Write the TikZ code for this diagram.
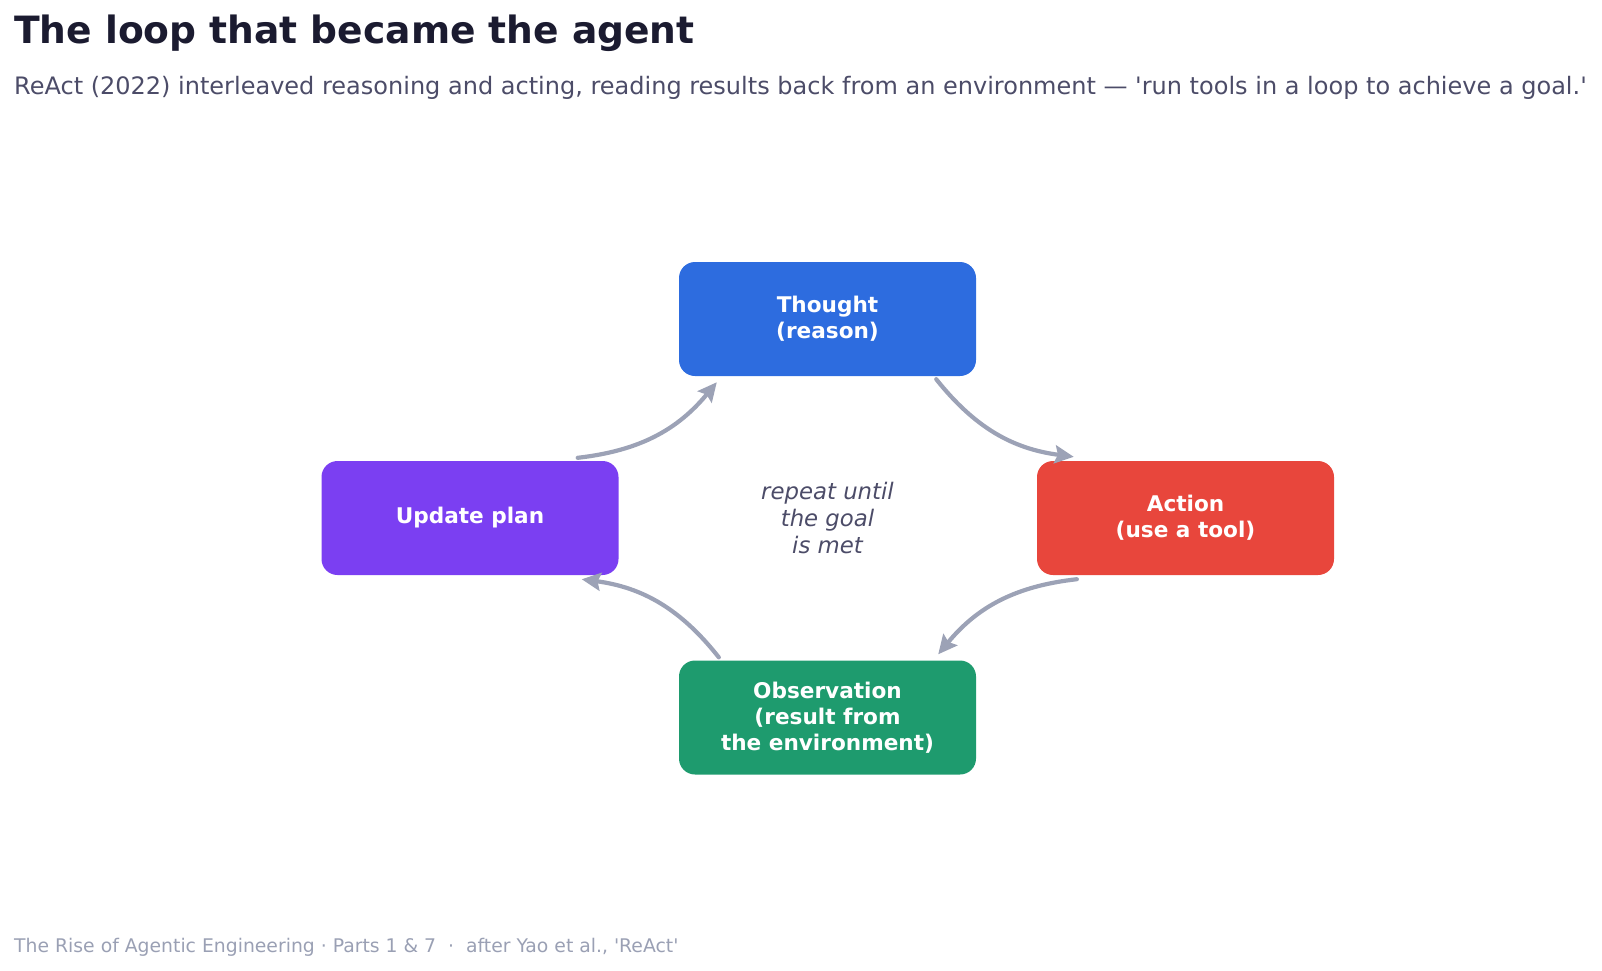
\documentclass[tikz,border=0pt]{standalone}
\usepackage{fontspec}
\setmainfont{DejaVu Sans}
\usetikzlibrary{arrows.meta,calc}
\definecolor{titlec}{HTML}{1B1B30}
\definecolor{subc}{HTML}{4C4C68}
\definecolor{footc}{HTML}{9AA0B4}
\definecolor{arrc}{HTML}{9CA2B6}
\definecolor{thoughtc}{HTML}{2D6CDF}
\definecolor{planc}{HTML}{7B3FF2}
\definecolor{actc}{HTML}{E8463C}
\definecolor{obsc}{HTML}{1E9B6E}
\tikzset{
  stagebox/.style={rounded corners=16pt, minimum width=297pt, minimum height=114pt,
    text=white, align=center, font=\fontsize{21.6}{26}\selectfont\bfseries, inner sep=0pt},
  loopar/.style={draw=arrc, line width=4.2pt, line cap=round,
    -{Stealth[length=19pt,width=18pt,inset=3pt]}},
}
\begin{document}
\begin{tikzpicture}[x=1pt,y=-1pt]
\useasboundingbox (0,0) rectangle (1602,970);
\node[anchor=base west, inner sep=0pt, text=titlec, font=\fontsize{37.6}{44}\selectfont\bfseries] (title) at (14,43) {The loop that became the agent};
\node[anchor=base west, inner sep=0pt, text=subc, font=\fontsize{24}{29}\selectfont] (sub) at (14,94) {ReAct (2022) interleaved reasoning and acting, reading results back from an environment — \textquotesingle run tools in a loop to achieve a goal.\textquotesingle};
\node[anchor=base west, inner sep=0pt, text=footc, font=\fontsize{18.8}{23}\selectfont] (foot) at (14,952) {The Rise of Agentic Engineering · Parts 1 \& 7 \ · \ after Yao et al., \textquotesingle ReAct\textquotesingle};

\node[stagebox, fill=thoughtc] (th) at (827.5,319) {Thought\\(reason)};
\node[stagebox, fill=planc] (up) at (470,518) {Update plan};
\node[stagebox, fill=actc] (ac) at (1185.5,518) {Action\\(use a tool)};
\node[stagebox, fill=obsc] (ob) at (827.5,717.5) {Observation\\(result from\\the environment)};

\node[align=center, text=subc, font=\fontsize{22.8}{26.7}\selectfont\itshape] (mid) at (827.5,518) {repeat until\\the goal\\is met};

\draw[loopar] ($(up.north east)+(-41,-3)$) to[bend right=22] ($(th.south west)+(38,6)$);
\draw[loopar] ($(th.south east)+(-40,3)$) to[bend right=22] ($(ac.north west)+(37,-4)$);
\draw[loopar] ($(ac.south west)+(40,4)$) to[bend right=22] ($(ob.north east)+(-38,-6)$);
\draw[loopar] ($(ob.north west)+(40,-3)$) to[bend right=22] ($(up.south east)+(-37,4)$);
\end{tikzpicture}
\end{document}
